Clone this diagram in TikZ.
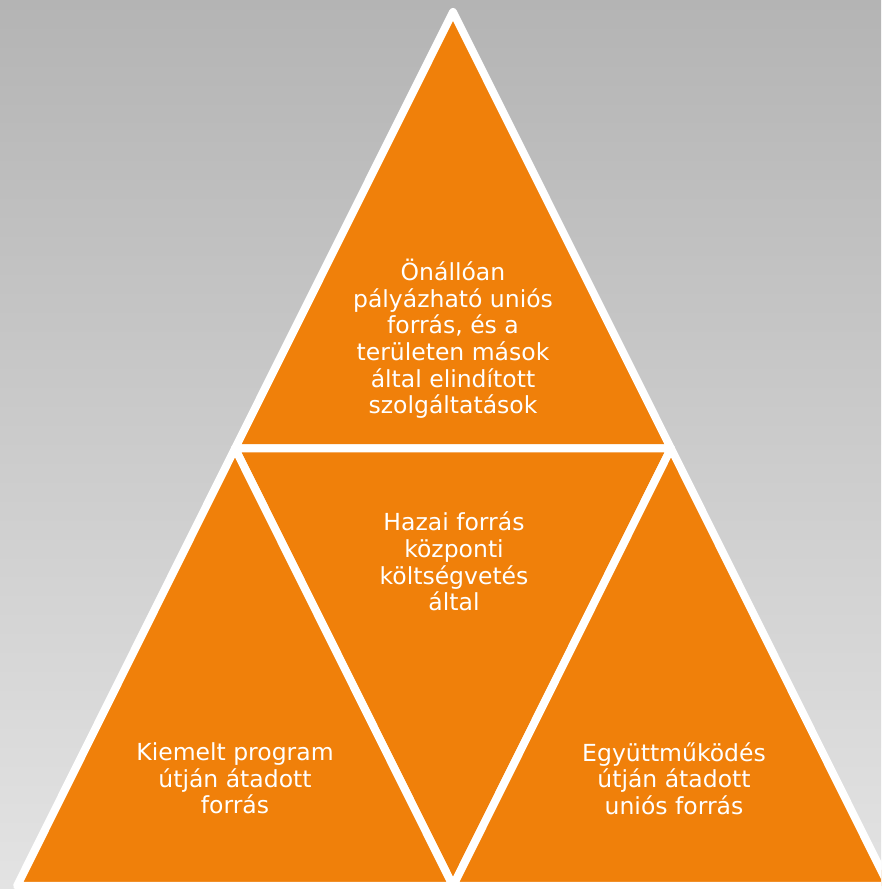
\documentclass[tikz,border=0pt]{standalone}
\usepackage{fontspec}
\setmainfont{DejaVu Sans}
\usepackage{xcolor}
\definecolor{piramisnarancs}{RGB}{240,128,10}
\definecolor{hatterfelso}{RGB}{180,180,180}
\definecolor{hatteralso}{RGB}{227,227,227}
\tikzset{
	resz/.style={
			fill=piramisnarancs, draw=white, line width=8pt, line join=round
		},
	felirat/.style={
			text=white, align=center, font=\fontsize{23.5}{26.6}\selectfont, inner sep=0pt
		}
}

\begin{document}
\begin{tikzpicture}[x=1pt,y=1pt]
    \clip (0, 0) rectangle (881, 889);
    \shade[top color=hatterfelso, bottom color=hatteralso] (0, 0) rectangle (881, 889);
    \coordinate (csucs) at (453, 877);
    \coordinate (balalso) at (17, 3);
    \coordinate (jobbalso) at (889, 3);
    \coordinate (balkozep) at (235, 440.5);
    \coordinate (jobbkozep) at (671, 440.5);
    \coordinate (alsokozep) at (453, 3);
    \filldraw[resz] (csucs) -- (balkozep) -- (jobbkozep) -- cycle;
    \filldraw[resz] (balkozep) -- (jobbkozep) -- (alsokozep) -- cycle;
    \filldraw[resz] (balkozep) -- (balalso) -- (alsokozep) -- cycle;
    \filldraw[resz] (jobbkozep) -- (alsokozep) -- (jobbalso) -- cycle;
    \node[felirat] (felso) at (453, 550) {Önállóan\\pályázható uniós\\forrás, és a\\területen mások\\által elindított\\szolgáltatások};
    \node[felirat] (kozepso) at (454, 327.5) {Hazai forrás\\központi\\költségvetés\\által};
    \node[felirat] (bal) at (235, 110.5) {Kiemelt program\\útján átadott\\forrás};
    \node[felirat] (jobb) at (674, 110.5) {Együttműködés\\útján átadott\\uniós forrás};
\end{tikzpicture}
\end{document}
